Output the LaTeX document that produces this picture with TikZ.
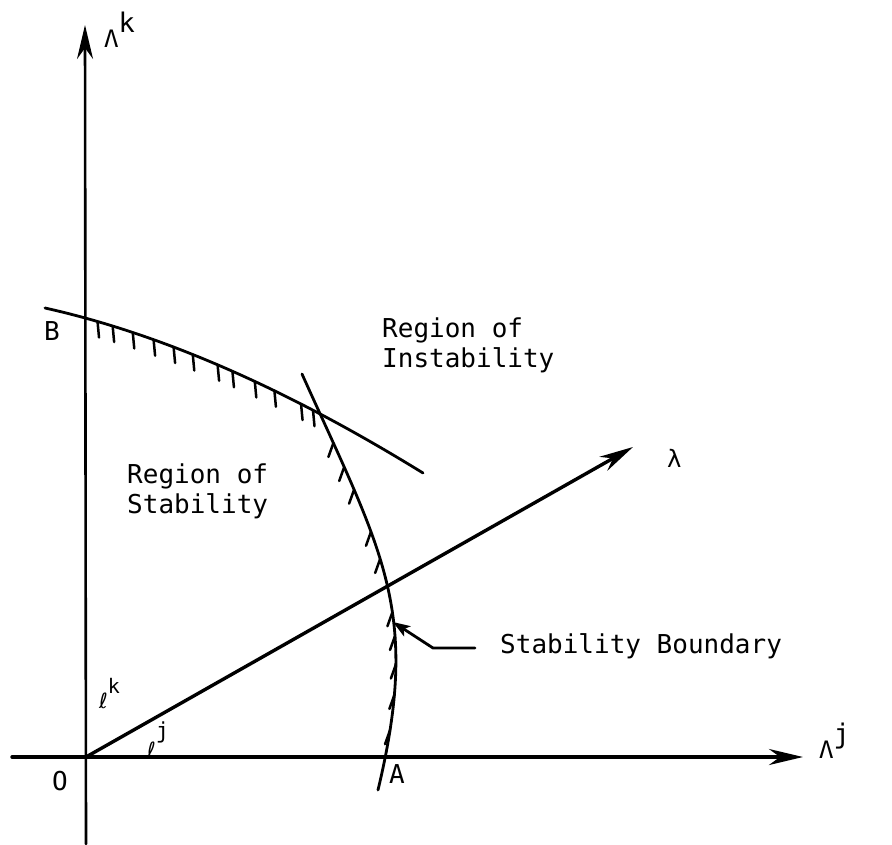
\documentclass[tikz,border=0pt]{standalone}
\usepackage{fontspec}
\newfontfamily\tw{DejaVu Sans Mono}
\newfontfamily\dvs{DejaVu Sans}
\usetikzlibrary{arrows.meta}
\begin{document}
\begin{tikzpicture}[x=1pt,y=-1pt,
  ln/.style={line width=2.8pt, line cap=round},
  axisarrow/.style={-{Stealth[length=34pt,width=16pt,inset=11pt]}},
  tickmark/.style={line width=2.5pt, line cap=round},
  lbl/.style={inner sep=0pt, anchor=base west, font=\tw\fontsize{26}{30}\selectfont},
  sml/.style={inner sep=0pt, anchor=base west},
]
\useasboundingbox (0,0) rectangle (892,844);
% axes
\coordinate (O) at (86,757);
\coordinate (vbot) at (86,844);
\coordinate (vtop) at (85,25);
\coordinate (hl) at (12,757);
\coordinate (hr) at (803,757);
\coordinate (lam) at (633,447);
\draw[ln, line width=2.6pt, axisarrow] (vbot) -- (vtop);
\draw[ln, line width=3.4pt, axisarrow] (hl) -- (hr);
\draw[ln, line width=3.4pt, axisarrow] (O) -- (lam);
% curve through B
\coordinate (B0) at (45,308);
\coordinate (B1) at (423,473);
\draw[ln] (B0) .. controls (175,337) and (303,399) .. (B1)
  coordinate[pos=0.135] (b1) coordinate[pos=0.174] (b2)
  coordinate[pos=0.226] (b3) coordinate[pos=0.28] (b4)
  coordinate[pos=0.332] (b5) coordinate[pos=0.382] (b6)
  coordinate[pos=0.447] (b7) coordinate[pos=0.486] (b8)
  coordinate[pos=0.545] (b9) coordinate[pos=0.597] (b10)
  coordinate[pos=0.668] (b11) coordinate[pos=0.70] (b12);
\foreach \i in {1,...,12} \draw[tickmark] (b\i) -- ++(1.5,16);
% stability boundary through A
\coordinate (A0) at (302,374);
\coordinate (A1) at (378,790);
\draw[ln] (A0) .. controls (383,554) and (421,610) .. (A1)
  coordinate[pos=0.14] (a1) coordinate[pos=0.195] (a2)
  coordinate[pos=0.25] (a3) coordinate[pos=0.36] (a4)
  coordinate[pos=0.435] (a5) coordinate[pos=0.585] (a6)
  coordinate[pos=0.65] (a7) coordinate[pos=0.725] (a8)
  coordinate[pos=0.80] (a9) coordinate[pos=0.88] (a10);
\foreach \i in {1,...,10} \draw[tickmark] (a\i) -- ++(-5,14);
% leader
\coordinate (sb1) at (475,648);
\coordinate (sb2) at (433,648);
\coordinate (sbt) at (393,622);
\draw[ln, -{Stealth[length=17pt,width=12pt,inset=4pt]}] (sb1) -- (sb2) -- (sbt);
% labels
\node[lbl] (ri1) at (382,337) {Region of};
\node[lbl] (ri2) at (382,367) {Instability};
\node[lbl] (rs1) at (127,483) {Region of};
\node[lbl] (rs2) at (127,513) {Stability};
\node[lbl] (sbl) at (500,653) {Stability Boundary};
\node[lbl] (lB) at (44,340) {B};
\node[lbl] (lA) at (389,783) {A};
\node[lbl] (lO) at (52,790) {O};
\node[sml] (lk) at (104,47) {\tw\fontsize{24}{24}\selectfont Λ\raisebox{15pt}{\fontsize{27}{27}\selectfont k}};
\node[sml] (lj) at (819,758) {\tw\fontsize{24}{24}\selectfont Λ\raisebox{15pt}{\fontsize{27}{27}\selectfont j}};
\node[sml] (ll) at (667,467) {\tw\fontsize{24}{24}\selectfont λ};
\node[sml] (lek) at (99,708) {{\dvs\fontsize{21}{21}\selectfont ℓ}\raisebox{15pt}{\tw\fontsize{20}{20}\selectfont k}};
\node[sml] (lej) at (147,757) {{\dvs\fontsize{21}{21}\selectfont ℓ}\raisebox{19pt}{\tw\fontsize{22}{22}\selectfont j}};
\end{tikzpicture}
\end{document}
